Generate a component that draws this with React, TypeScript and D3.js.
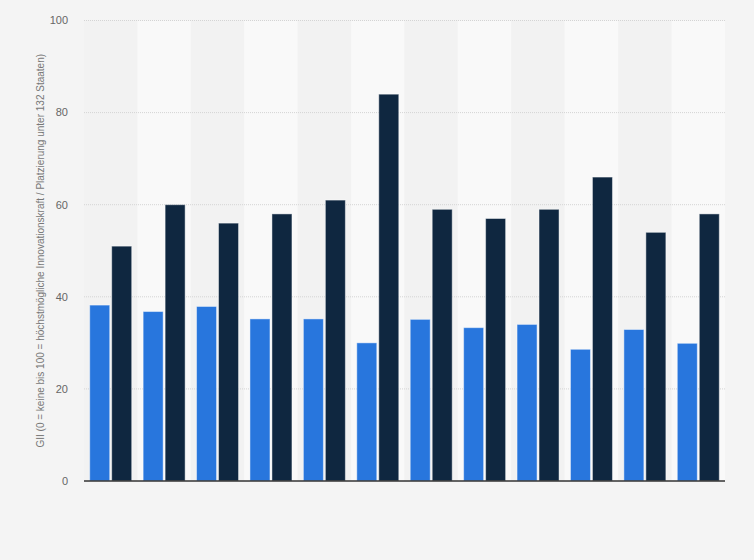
import React, { useEffect, useRef } from "react";
import * as d3 from "d3";

// GII score (blue) and rank among 132 states (dark), 12 groups, no labels shown
const categories = ["1", "2", "3", "4", "5", "6", "7", "8", "9", "10", "11", "12"];
const scoreValues = [38.2, 36.8, 37.9, 35.2, 35.2, 30.0, 35.1, 33.3, 34.0, 28.6, 32.9, 29.9];
const rankValues = [51, 60, 56, 58, 61, 84, 59, 57, 59, 66, 54, 58];
const yTicks = [0, 20, 40, 60, 80, 100];
const seriesColors = ["#2876dd", "#0f2740"];
const yTitle =
  "GII (0 = keine bis 100 = höchstmögliche Innovationskraft / Platzierung unter 132 Staaten)";

const App = () => {
  const svgRef = useRef<SVGSVGElement>(null);

  useEffect(() => {
    const W = 754;
    const H = 560;
    const margin = { top: 20.5, right: 29, bottom: 79, left: 84 };
    const width = W - margin.left - margin.right;
    const height = H - margin.top - margin.bottom;

    const root = d3.select(svgRef.current);
    root.selectAll("*").remove();
    root.attr("width", W).attr("height", H);

    root.append("rect").attr("width", W).attr("height", H).attr("fill", "#f4f4f4");

    const svg = root
      .append("g")
      .attr("transform", `translate(${margin.left}, ${margin.top})`);

    const x0 = d3.scaleBand<string>().domain(categories).range([0, width]);
    const x1 = d3
      .scaleBand<number>()
      .domain([0, 1])
      .range([0, x0.bandwidth()])
      .paddingInner(0.09)
      .paddingOuter(0.26);
    const y = d3.scaleLinear().domain([0, 100]).range([height, 0]);

    // alternating column stripes
    svg
      .selectAll("rect.stripe")
      .data(categories)
      .enter()
      .append("rect")
      .attr("class", "stripe")
      .attr("x", (d) => x0(d) as number)
      .attr("y", 0)
      .attr("width", x0.bandwidth())
      .attr("height", height)
      .attr("fill", (_d, i) => (i % 2 === 0 ? "#f2f2f2" : "#f9f9f9"));

    // grid
    svg
      .selectAll("line.grid")
      .data(yTicks.filter((t) => t > 0))
      .enter()
      .append("line")
      .attr("x1", 0)
      .attr("x2", width)
      .attr("y1", (d) => y(d))
      .attr("y2", (d) => y(d))
      .attr("stroke", "#d4d4d4")
      .attr("stroke-width", 1)
      .attr("stroke-dasharray", "1,1");

    // tick labels
    svg
      .selectAll("text.tick")
      .data(yTicks)
      .enter()
      .append("text")
      .attr("x", -16)
      .attr("y", (d) => y(d))
      .attr("dy", "0.35em")
      .attr("text-anchor", "end")
      .attr("font-family", "'Liberation Sans', Arial, sans-serif")
      .attr("font-size", 11)
      .attr("fill", "#666")
      .text((d) => d);

    const series = [scoreValues, rankValues];
    series.forEach((vals, s) => {
      svg
        .append("g")
        .selectAll("rect")
        .data(vals)
        .enter()
        .append("rect")
        .attr("x", (_d, i) => (x0(categories[i]) as number) + (x1(s) as number))
        .attr("y", (d) => y(d))
        .attr("width", x1.bandwidth())
        .attr("height", (d) => height - y(d))
        .attr("fill", seriesColors[s])
        .attr("stroke", "rgba(255,255,255,0.45)")
        .attr("stroke-width", 1);
    });

    // baseline
    svg
      .append("line")
      .attr("x1", 0)
      .attr("x2", width)
      .attr("y1", height)
      .attr("y2", height)
      .attr("stroke", "#333")
      .attr("stroke-width", 1.5);

    // y title
    root
      .append("text")
      .attr("transform", `translate(43.5, ${margin.top + height / 2}) rotate(-90)`)
      .attr("text-anchor", "middle")
      .attr("font-family", "'Liberation Sans', Arial, sans-serif")
      .attr("font-size", 10)
      .attr("fill", "#777")
      .text(yTitle);
  }, []);

  return (
    <svg
      ref={svgRef}
      style={{ position: "absolute", left: 0, top: 0, display: "block" }}
    ></svg>
  );
};

export default App;
